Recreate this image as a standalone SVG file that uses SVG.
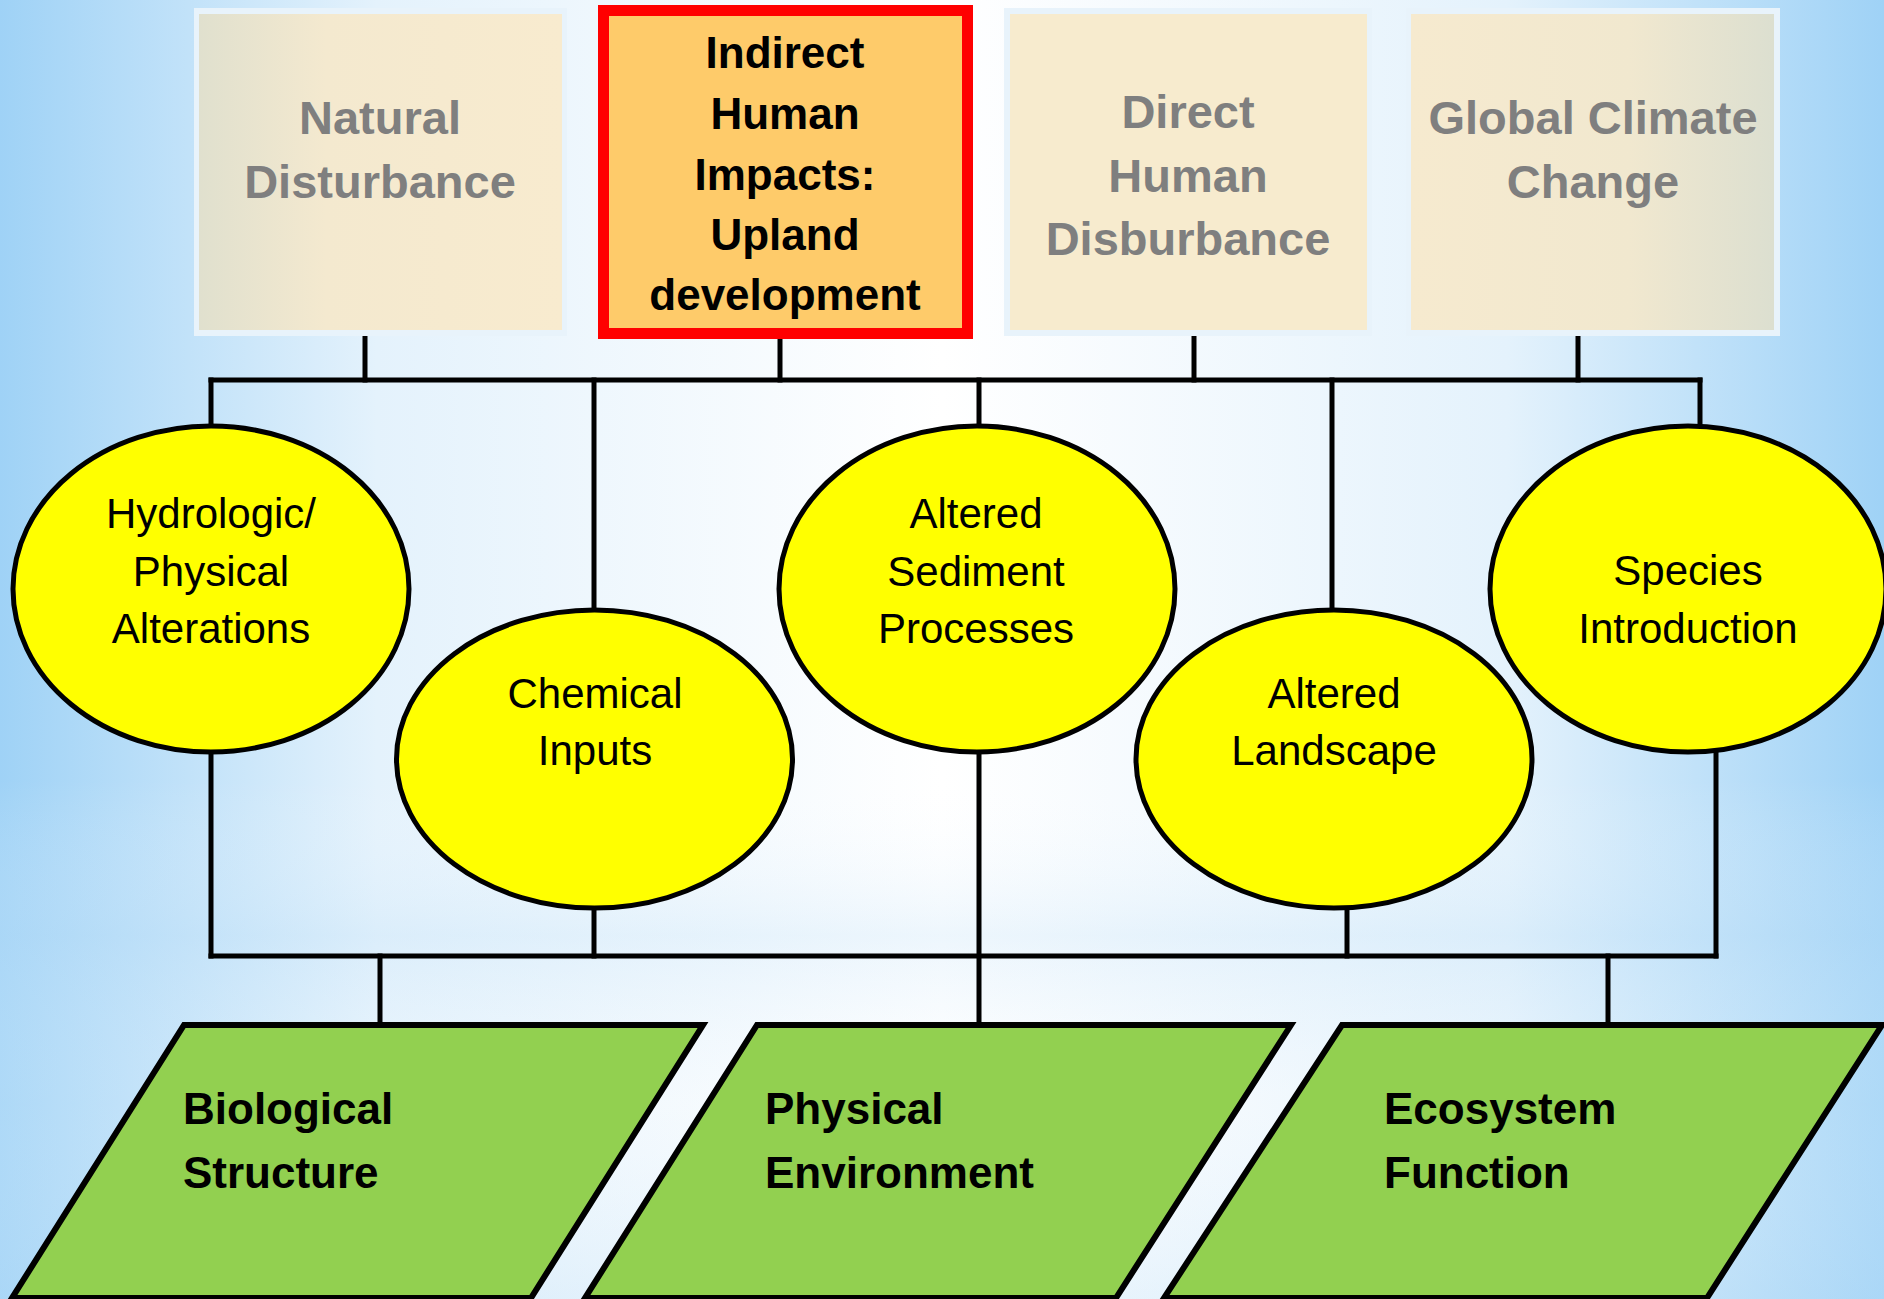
<svg xmlns="http://www.w3.org/2000/svg" width="1884" height="1299" viewBox="0 0 1884 1299">
  <defs>
    <linearGradient id="bgH" x1="0" y1="0" x2="1" y2="0">
      <stop offset="0" stop-color="#9FD2F6"/>
      <stop offset="0.2" stop-color="#E4F2FC"/>
      <stop offset="0.5" stop-color="#FFFFFF"/>
      <stop offset="0.8" stop-color="#E4F2FC"/>
      <stop offset="1" stop-color="#9FD2F6"/>
    </linearGradient>
    <linearGradient id="bgV" x1="0" y1="0" x2="0" y2="1">
      <stop offset="0" stop-color="#FFFFFF" stop-opacity="0"/>
      <stop offset="0.6" stop-color="#FFFFFF" stop-opacity="0"/>
      <stop offset="0.72" stop-color="#C4E2F8" stop-opacity="0.3"/>
      <stop offset="0.85" stop-color="#FFFFFF" stop-opacity="0.15"/>
      <stop offset="1" stop-color="#C4E2F8" stop-opacity="0.3"/>
    </linearGradient>
    <linearGradient id="creamL" x1="0" y1="0" x2="1" y2="0">
      <stop offset="0" stop-color="#E0E0CE"/>
      <stop offset="0.35" stop-color="#F4E9CF"/>
      <stop offset="1" stop-color="#F8EBCF"/>
    </linearGradient>
    <linearGradient id="creamR" x1="0" y1="0" x2="1" y2="0">
      <stop offset="0" stop-color="#F6EACF"/>
      <stop offset="0.6" stop-color="#F1E8CF"/>
      <stop offset="1" stop-color="#DCDFD0"/>
    </linearGradient>
    <style>
      .frame { fill: #E8F3FB; }
      .muted { font-family: "Liberation Sans", Arial, sans-serif; font-weight: bold; font-size: 47px; fill: #7F7F7F; text-anchor: middle; }
      .focus { font-family: "Liberation Sans", Arial, sans-serif; font-weight: bold; font-size: 44px; fill: #000; text-anchor: middle; }
      .oval { fill: #FFFF00; stroke: #000; stroke-width: 5; }
      .oval-t { font-family: "Liberation Sans", Arial, sans-serif; font-size: 42px; fill: #000; text-anchor: middle; }
      .para { fill: #92D050; stroke: #000; stroke-width: 6; stroke-linejoin: miter; }
      .para-t { font-family: "Liberation Sans", Arial, sans-serif; font-weight: bold; font-size: 44px; fill: #000; }
      .wire { stroke: #000; stroke-width: 5; fill: none; stroke-linecap: square; }
    </style>
  </defs>

  <!-- background -->
  <rect x="0" y="0" width="1884" height="1299" fill="url(#bgH)"/>
  <rect x="0" y="0" width="1884" height="1299" fill="url(#bgV)"/>

  <!-- connectors -->
  <g id="connectors" class="wire">
    <line x1="365" y1="333" x2="365" y2="380"/>
    <line x1="780" y1="333" x2="780" y2="380"/>
    <line x1="1194" y1="333" x2="1194" y2="380"/>
    <line x1="1578" y1="333" x2="1578" y2="380"/>
    <line x1="211" y1="380" x2="1700" y2="380"/>
    <line x1="211" y1="380" x2="211" y2="426"/>
    <line x1="594" y1="380" x2="594" y2="610"/>
    <line x1="979" y1="380" x2="979" y2="426"/>
    <line x1="1332" y1="380" x2="1332" y2="610"/>
    <line x1="1700" y1="380" x2="1700" y2="426"/>
    <line x1="211" y1="752" x2="211" y2="956"/>
    <line x1="594" y1="908" x2="594" y2="956"/>
    <line x1="979" y1="752" x2="979" y2="1025"/>
    <line x1="1347" y1="908" x2="1347" y2="956"/>
    <line x1="1716" y1="752" x2="1716" y2="956"/>
    <line x1="211" y1="956" x2="1716" y2="956"/>
    <line x1="380" y1="956" x2="380" y2="1025"/>
    <line x1="1608" y1="956" x2="1608" y2="1025"/>
  </g>

  <!-- driver boxes -->
  <g id="natural-disturbance">
    <rect class="frame" x="194" y="8" width="373" height="328"/>
    <rect x="199" y="14" width="363" height="316" fill="url(#creamL)"/>
    <text class="muted" x="380" y="134">Natural</text>
    <text class="muted" x="380" y="198">Disturbance</text>
  </g>
  <g id="indirect-human-impacts">
    <rect x="603.5" y="10.5" width="364" height="323" fill="#FECB6A" stroke="#FF0000" stroke-width="11"/>
    <text class="focus" x="785" y="68">Indirect</text>
    <text class="focus" x="785" y="129">Human</text>
    <text class="focus" x="785" y="190">Impacts:</text>
    <text class="focus" x="785" y="250">Upland</text>
    <text class="focus" x="785" y="310">development</text>
  </g>
  <g id="direct-human-disturbance">
    <rect class="frame" x="1004" y="8" width="368" height="328"/>
    <rect x="1010" y="14" width="357" height="316" fill="#F7EBCE"/>
    <text class="muted" x="1188" y="128">Direct</text>
    <text class="muted" x="1188" y="192">Human</text>
    <text class="muted" x="1188" y="255">Disburbance</text>
  </g>
  <g id="global-climate-change">
    <rect class="frame" x="1406" y="8" width="374" height="328"/>
    <rect x="1411" y="14" width="363" height="316" fill="url(#creamR)"/>
    <text class="muted" x="1593" y="134">Global Climate</text>
    <text class="muted" x="1593" y="198">Change</text>
  </g>

  <!-- stressor ovals -->
  <g id="hydrologic-physical">
    <ellipse class="oval" cx="211" cy="589" rx="198" ry="163"/>
    <text class="oval-t" x="211" y="528">Hydrologic/</text>
    <text class="oval-t" x="211" y="586">Physical</text>
    <text class="oval-t" x="211" y="643">Alterations</text>
  </g>
  <g id="chemical-inputs">
    <ellipse class="oval" cx="594.5" cy="759" rx="198" ry="149"/>
    <text class="oval-t" x="595" y="708">Chemical</text>
    <text class="oval-t" x="595" y="765">Inputs</text>
  </g>
  <g id="altered-sediment">
    <ellipse class="oval" cx="977" cy="589" rx="198" ry="163"/>
    <text class="oval-t" x="976" y="528">Altered</text>
    <text class="oval-t" x="976" y="586">Sediment</text>
    <text class="oval-t" x="976" y="643">Processes</text>
  </g>
  <g id="altered-landscape">
    <ellipse class="oval" cx="1334" cy="759" rx="198" ry="149"/>
    <text class="oval-t" x="1334" y="708">Altered</text>
    <text class="oval-t" x="1334" y="765">Landscape</text>
  </g>
  <g id="species-introduction">
    <ellipse class="oval" cx="1688" cy="589" rx="198" ry="163"/>
    <text class="oval-t" x="1688" y="585">Species</text>
    <text class="oval-t" x="1688" y="643">Introduction</text>
  </g>

  <!-- response parallelograms -->
  <g id="biological-structure">
    <polygon class="para" points="184,1025 703,1025 531,1298 12,1298"/>
    <text class="para-t" x="183" y="1124">Biological</text>
    <text class="para-t" x="183" y="1188">Structure</text>
  </g>
  <g id="physical-environment">
    <polygon class="para" points="757,1025 1291,1025 1116,1298 585,1298"/>
    <text class="para-t" x="765" y="1124">Physical</text>
    <text class="para-t" x="765" y="1188">Environment</text>
  </g>
  <g id="ecosystem-function">
    <polygon class="para" points="1342,1025 1882,1025 1707,1298 1164,1298"/>
    <text class="para-t" x="1384" y="1124">Ecosystem</text>
    <text class="para-t" x="1384" y="1188">Function</text>
  </g>
</svg>
